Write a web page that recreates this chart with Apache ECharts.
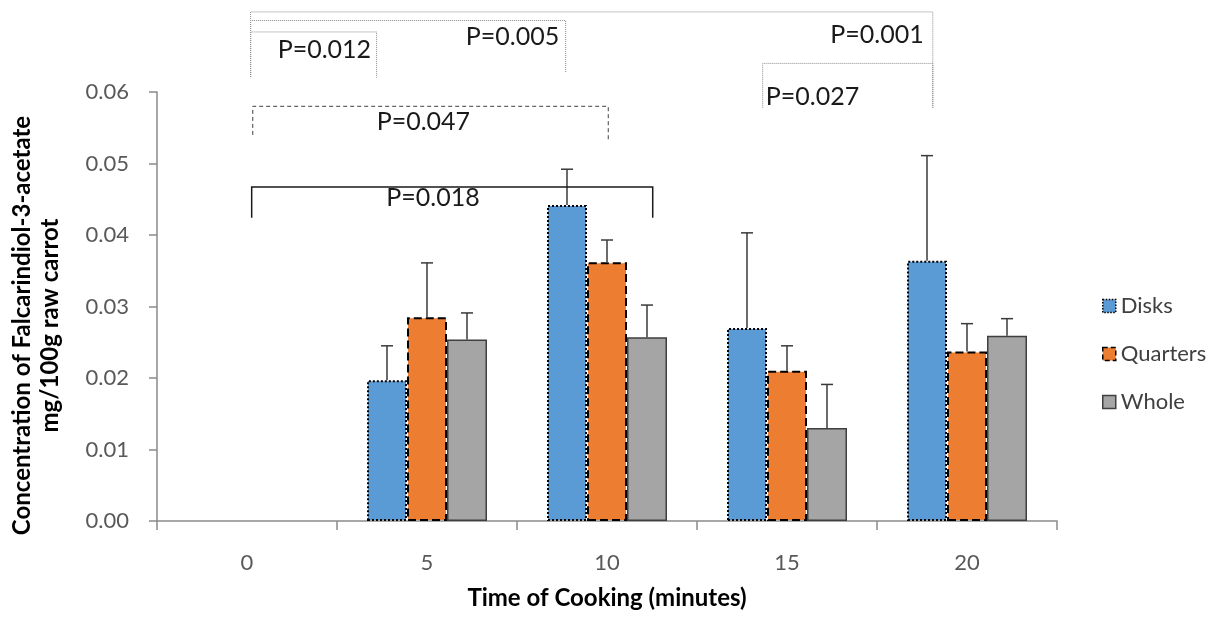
<!DOCTYPE html>
<html>
<head>
<meta charset="utf-8">
<script src="https://cdn.jsdelivr.net/npm/echarts@6/dist/echarts.min.js"></script>
<style>
  html, body { margin: 0; padding: 0; background: #ffffff; }
  #chart { width: 1232px; height: 617px; }
</style>
</head>
<body>
<div id="chart"></div>
<script>
// Cooking time categories (minutes)
const categories = ['0', '5', '10', '15', '20'];

// Falcarindiol-3-acetate, mg/100g raw carrot (mean and error)
const disks       = [null, 0.0197, 0.0442, 0.0270, 0.0364];
const disksErr    = [null, 0.0048, 0.0050, 0.0133, 0.0147];
const quarters    = [null, 0.0285, 0.0362, 0.0210, 0.0237];
const quartersErr = [null, 0.0076, 0.0031, 0.0035, 0.0039];
const whole       = [null, 0.0254, 0.0257, 0.0130, 0.0259];
const wholeErr    = [null, 0.0037, 0.0045, 0.0061, 0.0024];

// Value axis ticks
const yTicks = [0, 0.01, 0.02, 0.03, 0.04, 0.05, 0.06];

// Significance brackets, in data units (x = category index, y = concentration)
const brackets = [
  { label: 'P=0.001', from: 0.02, to: 3.81, level: 0.0712, legFrom: 0.0621, legTo: 0.0578, textAt: 3.50, textLevel: 0.0680 },
  { label: 'P=0.005', from: 0.02, to: 1.77, level: 0.0700, legFrom: 0.0621, legTo: 0.0627, textAt: 1.475, textLevel: 0.0677 },
  { label: 'P=0.012', from: 0.02, to: 0.72, level: 0.0684, legFrom: 0.0621, legTo: 0.0620, textAt: 0.43, textLevel: 0.0659 },
  { label: 'P=0.027', from: 2.865, to: 3.81, level: 0.0640, legFrom: 0.0578, legTo: 0.0578, textAt: 3.142, textLevel: 0.0593 },
  { label: 'P=0.047', from: 0.032, to: 2.007, level: 0.0580, legFrom: 0.0540, legTo: 0.0530, textAt: 0.98, textLevel: 0.0558 },
  { label: 'P=0.018', from: 0.026, to: 2.254, level: 0.0467, legFrom: 0.0424, legTo: 0.0424, textAt: 1.033, textLevel: 0.0452 }
];

// Line style of each bracket
const bracketStyle = {
  'P=0.001': { stroke: '#8c8c8c', lineWidth: 1, lineDash: [1, 1] },
  'P=0.005': { stroke: '#8c8c8c', lineWidth: 1, lineDash: [1, 1] },
  'P=0.012': { stroke: '#8c8c8c', lineWidth: 1, lineDash: [1, 1] },
  'P=0.027': { stroke: '#8c8c8c', lineWidth: 1, lineDash: [1, 1] },
  'P=0.047': { stroke: '#404040', lineWidth: 1, lineDash: [4, 3] },
  'P=0.018': { stroke: '#1a1a1a', lineWidth: 1.5, lineDash: null }
};

// Bar fill and outline per series
const barStyle = {
  Disks:    { color: '#5b9bd5', borderColor: '#000000', borderWidth: 2, borderType: [2, 2] },
  Quarters: { color: '#ed7d31', borderColor: '#000000', borderWidth: 2, borderType: [8, 4] },
  Whole:    { color: '#a5a5a5', borderColor: '#3f3f3f', borderWidth: 1.5, borderType: 'solid' }
};

const FONT = 'Lato, "Open Sans", sans-serif';
const GAP_RATIO = 1 / 3; // share of each category left empty around the bars
const SERIES_COUNT = 3;

function errorBarSeries(name, values, errs, slot) {
  const data = [];
  values.forEach((v, i) => { if (v != null) data.push([i, v, errs[i]]); });
  return {
    type: 'custom',
    name: name + ' error',
    xAxisIndex: 0,
    yAxisIndex: 0,
    z: 4,
    silent: true,
    legendHoverLink: false,
    data: data,
    renderItem: function (params, api) {
      const i = api.value(0);
      const v = api.value(1);
      const e = api.value(2);
      const band = api.size([1, 0])[0];
      const barW = band * (1 - GAP_RATIO) / SERIES_COUNT;
      const dx = (slot - (SERIES_COUNT - 1) / 2) * barW;
      const base = api.coord([i, v]);
      const top = api.coord([i, v + e]);
      const x = base[0] + dx;
      const cap = 6;
      const style = { stroke: '#3a3a3a', lineWidth: 1.5, fill: null };
      return {
        type: 'group',
        children: [
          { type: 'line', shape: { x1: x, y1: base[1], x2: x, y2: top[1] }, style: style },
          { type: 'line', shape: { x1: x - cap, y1: top[1], x2: x + cap, y2: top[1] }, style: style }
        ]
      };
    }
  };
}

function barSeries(name, values) {
  return {
    name: name, type: 'bar', data: values,
    barGap: '0%', barCategoryGap: (GAP_RATIO * 100) + '%',
    itemStyle: barStyle[name],
    z: 2
  };
}

const chart = echarts.init(document.getElementById('chart'), null, { renderer: 'canvas' });

chart.setOption({
  animation: false,
  backgroundColor: '#ffffff',
  textStyle: { fontFamily: FONT },
  grid: { left: 157, right: 175, top: 92, bottom: 96, containLabel: false },
  legend: {
    orient: 'vertical',
    left: 1097,
    top: 290,
    itemWidth: 13,
    itemHeight: 13,
    itemGap: 26,
    itemTextGap: 11,
    icon: 'rect',
    data: ['Disks', 'Quarters', 'Whole'].map(n => ({
      name: n,
      itemStyle: {
        color: barStyle[n].color,
        borderColor: barStyle[n].borderColor,
        borderWidth: Math.min(barStyle[n].borderWidth, 1.5),
        borderType: n === 'Disks' ? [1.5, 1.5] : (n === 'Quarters' ? [5, 3] : 'solid')
      }
    })),
    textStyle: { fontFamily: FONT, fontSize: 22, color: '#404040' }
  },
  xAxis: [
    {
      type: 'category',
      data: categories,
      boundaryGap: true,
      name: 'Time of Cooking (minutes)',
      nameLocation: 'middle',
      nameGap: 65,
      nameTextStyle: { fontFamily: FONT, fontSize: 24, fontWeight: 'bold', color: '#000000' },
      axisLine: { show: true, onZero: false, lineStyle: { color: '#8a8a8a', width: 1.5 } },
      axisTick: { show: true, length: 9, lineStyle: { color: '#8a8a8a', width: 1.5 } },
      axisLabel: { fontFamily: FONT, fontSize: 22, color: '#595959', margin: 31 },
      splitLine: { show: false }
    },
    {
      // hidden linear companion axis for placing annotations between categories
      type: 'value',
      min: -0.5,
      max: categories.length - 0.5,
      show: false,
      axisLine: { show: false, onZero: false },
      splitLine: { show: false }
    }
  ],
  yAxis: {
    type: 'value',
    min: yTicks[0],
    max: yTicks[yTicks.length - 1],
    interval: 0.01,
    name: 'Concentration of Falcarindiol-3-acetate\nmg/100g raw carrot',
    nameLocation: 'middle',
    nameRotate: 90,
    nameGap: 93,
    nameTextStyle: {
      fontFamily: FONT, fontSize: 24, fontWeight: 'bold', color: '#000000',
      lineHeight: 28, align: 'center', padding: [0, 38, 0, 0]
    },
    axisLine: { show: true, onZero: false, lineStyle: { color: '#8a8a8a', width: 1.5 } },
    axisTick: { show: true, length: 8, lineStyle: { color: '#8a8a8a', width: 1.5 } },
    axisLabel: {
      fontFamily: FONT, fontSize: 22, color: '#595959', margin: 28,
      formatter: v => v.toFixed(2)
    },
    splitLine: { show: false }
  },
  series: [
    barSeries('Disks', disks),
    barSeries('Quarters', quarters),
    barSeries('Whole', whole),
    errorBarSeries('Disks', disks, disksErr, 0),
    errorBarSeries('Quarters', quarters, quartersErr, 1),
    errorBarSeries('Whole', whole, wholeErr, 2),
    {
      type: 'custom',
      name: 'significance',
      xAxisIndex: 1,
      yAxisIndex: 0,
      clip: false,
      silent: true,
      z: 6,
      data: brackets.map(b => [b.from, b.to, b.level, b.legFrom, b.legTo, b.textAt, b.textLevel]),
      renderItem: function (params, api) {
        const b = brackets[params.dataIndex];
        const st = bracketStyle[b.label];
        const l0 = api.coord([api.value(0), api.value(3)]);
        const p0 = api.coord([api.value(0), api.value(2)]);
        const p1 = api.coord([api.value(1), api.value(2)]);
        const l1 = api.coord([api.value(1), api.value(4)]);
        const t = api.coord([api.value(5), api.value(6)]);
        return {
          type: 'group',
          children: [
            {
              type: 'polyline',
              shape: { points: [l0, p0, p1, l1] },
              style: { stroke: st.stroke, lineWidth: st.lineWidth, lineDash: st.lineDash, fill: null }
            },
            {
              type: 'text',
              x: t[0], y: t[1],
              style: {
                text: b.label, fill: '#1a1a1a',
                font: '25px ' + FONT,
                align: 'center', verticalAlign: 'middle'
              }
            }
          ]
        };
      }
    }
  ]
});
</script>
</body>
</html>
